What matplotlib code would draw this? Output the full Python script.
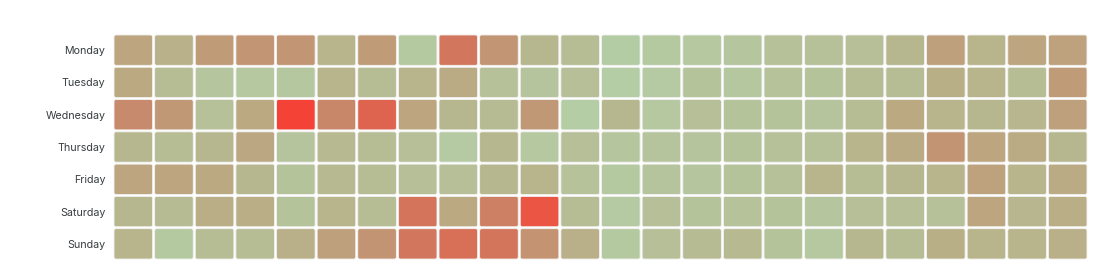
import numpy as np
import matplotlib
matplotlib.use("Agg")
import matplotlib.pyplot as plt
from matplotlib.colors import LinearSegmentedColormap
from matplotlib.patches import FancyBboxPatch

days = ["Monday", "Tuesday", "Wednesday", "Thursday", "Friday", "Saturday", "Sunday"]
hours = list(range(24))

# intensity per hour (0 = calm green, 10 = hot red)
monday = [3.5, 2.5, 4.5, 5.0, 5.0, 2.2, 4.5, 0.5, 7.5, 5.0, 2.0, 1.5,
          0.3, 0.5, 0.6, 0.8, 1.2, 1.2, 1.3, 2.0, 4.0, 2.3, 3.5, 3.8]
tuesday = [3.2, 1.5, 0.8, 0.6, 0.7, 2.2, 1.5, 2.2, 3.0, 1.2, 0.9, 1.4,
           0.2, 0.4, 1.0, 0.7, 1.1, 1.0, 1.6, 1.5, 2.7, 2.3, 1.5, 4.5]
wednesday = [6.0, 4.8, 1.2, 3.2, 10.0, 6.3, 8.5, 3.5, 2.0, 1.7, 4.8, 0.2,
             2.0, 0.6, 1.3, 1.0, 1.0, 0.9, 1.5, 3.2, 2.2, 2.0, 2.1, 4.0]
thursday = [2.0, 1.6, 2.0, 3.3, 0.9, 1.8, 1.5, 1.4, 0.4, 2.0, 0.6, 1.4,
            0.8, 0.9, 0.9, 1.0, 1.2, 1.2, 2.3, 3.0, 5.2, 3.5, 3.0, 2.0]
friday = [3.5, 3.5, 3.2, 2.0, 1.0, 1.8, 1.6, 1.4, 1.4, 2.0, 2.2, 1.1,
          0.5, 0.9, 0.8, 1.0, 1.2, 2.2, 1.6, 2.0, 2.3, 3.8, 2.2, 3.0]
saturday = [2.0, 1.7, 2.8, 2.8, 1.0, 2.2, 1.6, 7.8, 3.2, 6.8, 9.2, 1.6,
            0.4, 1.4, 1.0, 1.1, 1.0, 0.8, 1.4, 1.3, 1.2, 3.5, 2.1, 2.8]
sunday = [2.3, 0.5, 1.6, 1.6, 2.6, 4.0, 5.2, 7.5, 8.0, 7.7, 5.3, 2.6,
          0.5, 1.4, 1.7, 1.8, 1.0, 0.6, 2.0, 1.5, 2.7, 2.3, 2.3, 2.6]

data = np.array([monday, tuesday, wednesday, thursday, friday, saturday, sunday])

# green -> olive -> tan -> red
cmap = LinearSegmentedColormap.from_list("heat", [
    (0.00, "#b4cfa7"),
    (0.20, "#b7b78f"),
    (0.35, "#bca57f"),
    (0.50, "#c29675"),
    (0.63, "#c98769"),
    (0.78, "#d4745a"),
    (0.92, "#ea5544"),
    (1.00, "#f44336"),
])

plt.rcParams["font.family"] = ["Inter", "DejaVu Sans"]

fig = plt.figure(figsize=(10.99, 2.66), dpi=100)
ax = fig.add_axes([113 / 1099, 1 - 260 / 266, 975 / 1099, 226 / 266])

gx, gy = 0.025, 0.03
for r, day in enumerate(days):
    for c in hours:
        col = cmap(data[r, c] / 10.0)
        box = FancyBboxPatch((c + gx, r + gy), 1 - 2 * gx, 1 - 2 * gy,
                             boxstyle="round,pad=0,rounding_size=0.05",
                             facecolor=col, edgecolor="#f2f2f2", linewidth=0.6,
                             mutation_aspect=40.6 / 32.3)
        ax.add_patch(box)

ax.set_xlim(0, 24)
ax.set_ylim(7, 0)
ax.set_yticks(np.arange(7) + 0.5)
ax.set_yticklabels(days, fontsize=7.7, color="#373d3f")
ax.set_xticks([])
ax.tick_params(axis="y", length=0, pad=5.5)
for s in ax.spines.values():
    s.set_visible(False)

fig.savefig("out.png", dpi=100)
